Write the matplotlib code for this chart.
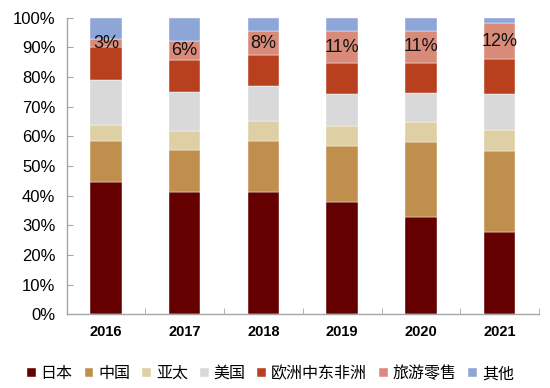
import matplotlib
matplotlib.use("Agg")
import matplotlib.pyplot as plt
import numpy as np

plt.rcParams['font.family'] = ['Liberation Sans', 'Noto Sans CJK SC', 'DejaVu Sans']

years = ['2016', '2017', '2018', '2019', '2020', '2021']
series_names = ['日本', '中国', '亚太', '美国', '欧洲中东非洲', '旅游零售', '其他']
japan = [44.7, 41.3, 41.3, 37.9, 32.8, 27.7]
china = [13.7, 14.2, 17.2, 18.9, 25.4, 27.4]
apac = [5.6, 6.3, 6.6, 6.6, 6.6, 6.9]
usa = [15.0, 13.2, 11.9, 10.8, 10.0, 12.3]
emea = [11.0, 10.8, 10.3, 10.5, 10.1, 11.8]
travel = [2.9, 6.4, 8.2, 10.8, 10.8, 12.1]
other = [7.1, 7.8, 4.5, 4.5, 4.3, 1.8]
travel_labels = ['3%', '6%', '8%', '11%', '11%', '12%']
colors = ['#640000', '#C08F4D', '#DFCFA5', '#D9D9D9', '#B9401E', '#D98B7A', '#8EA5D8']

data = [japan, china, apac, usa, emea, travel, other]

fig = plt.figure(figsize=(5.5, 3.88), dpi=100)
ax = fig.add_axes([0.121, 0.19, 0.859, 0.764])

x = np.arange(len(years))
bottom = np.zeros(len(years))
for vals, name, c in zip(data, series_names, colors):
    v = np.array(vals) / 100.0
    ax.bar(x, v, 0.4, bottom=bottom, color=c, label=name, edgecolor='white', linewidth=0.3)
    if name == '旅游零售':
        for xi, b, h, t in zip(x, bottom, v, travel_labels):
            ax.text(xi, b + h / 2, t, ha='center', va='center', fontsize=13, color='#111111')
    bottom += v

ax.set_xlim(-0.5, len(years) - 0.5)
ax.set_ylim(0, 1.0)
ax.set_yticks(np.arange(0, 1.01, 0.1))
ax.set_yticklabels([f'{int(round(t*100))}%' for t in np.arange(0, 1.01, 0.1)], fontsize=12)
ax.set_xticks(x)
ax.set_xticklabels(years, fontsize=10.5, fontweight='bold')
ax.tick_params(axis='x', length=0, pad=8)
ax.tick_params(axis='y', direction='in', length=4, color='#A6A6A6', pad=8)
ax.set_xticks(np.arange(-0.5, len(years), 1.0), minor=True)
ax.tick_params(axis='x', which='minor', direction='in', length=4, color='#A6A6A6')

for s in ['top', 'right']:
    ax.spines[s].set_visible(False)
for s in ['left', 'bottom']:
    ax.spines[s].set_color('#A6A6A6')
    ax.spines[s].set_linewidth(1.0)

fig.legend(loc='lower center', bbox_to_anchor=(0.492, -0.022), ncol=7, frameon=False,
           handlelength=0.55, handleheight=0.55, handletextpad=0.3,
           columnspacing=0.75, prop={'family': ['Noto Sans CJK SC', 'DejaVu Sans'], 'size': 11.5})

fig.savefig('out.png', dpi=100)
